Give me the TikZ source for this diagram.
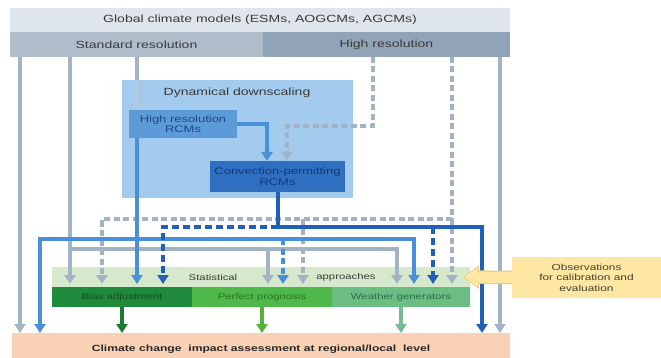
\documentclass[tikz,border=0pt]{standalone}
\usepackage{fontspec}
\setmainfont{Liberation Sans}[FakeStretch=1.35]
\usetikzlibrary{arrows.meta}
\definecolor{globc}{HTML}{DFE5EC}
\definecolor{stdc}{HTML}{B0BDCB}
\definecolor{highc}{HTML}{91A3B7}
\definecolor{dync}{HTML}{A3CBEE}
\definecolor{hrcmc}{HTML}{5D9AD8}
\definecolor{cprcmc}{HTML}{2F6FC2}
\definecolor{statc}{HTML}{D6E9CC}
\definecolor{biasc}{HTML}{1F8A3C}
\definecolor{ppc}{HTML}{4FB84A}
\definecolor{wgc}{HTML}{6CBD84}
\definecolor{impc}{HTML}{F9D2B6}
\definecolor{obsc}{HTML}{FDE7A3}
\definecolor{obsline}{HTML}{EBCB7E}
\definecolor{grayl}{HTML}{A3B3C7}
\definecolor{grayin}{HTML}{B5C9DE}
\definecolor{bluel}{HTML}{4A8FDA}
\definecolor{dbluel}{HTML}{2060B8}
\definecolor{gra}{HTML}{1C7A30}
\definecolor{grb}{HTML}{57B03A}
\definecolor{grc}{HTML}{79B895}
\definecolor{txtc}{HTML}{3A3A3A}
\definecolor{hrcmt}{HTML}{1F488C}
\definecolor{cprcmt}{HTML}{183770}
\definecolor{biast}{HTML}{14501E}
\definecolor{ppt}{HTML}{28731E}
\definecolor{wgt}{HTML}{286E46}
\definecolor{impt}{HTML}{282828}
\definecolor{obst}{HTML}{463E2D}
\begin{document}
\begin{tikzpicture}[x=1pt,y=-1pt,
  box/.style={inner sep=0pt,outer sep=0pt,draw=none,align=center},
  hdr/.style={font=\fontsize{10.4}{12}\selectfont,text=txtc},
  small/.style={font=\fontsize{9.6}{10.6}\selectfont},
  band/.style={font=\fontsize{8.4}{10}\selectfont},
  ln/.style={line width=3.4pt},
  tip/.style={-{Triangle[length=9pt,width=11pt]}},
  sh/.style={shorten >=3pt},
  gl/.style={ln,color=grayl},
  gld/.style={ln,color=grayl,dash pattern=on 6pt off 3.5pt},
  bl/.style={ln,color=bluel},
  bld/.style={ln,color=bluel,dash pattern=on 6pt off 3.5pt},
  db/.style={ln,color=dbluel},
  dbd/.style={ln,color=dbluel,dash pattern=on 7pt off 4pt}]
\useasboundingbox (0,0) rectangle (661,358);
\fill[white] (0,0) rectangle (661,358);

% boxes
\node[box,hdr,fill=globc,minimum width=500pt,minimum height=24pt] (glob) at (260,20) {Global climate models (ESMs, AOGCMs, AGCMs)};
\node[box,hdr,fill=stdc,minimum width=253pt,minimum height=25pt] (std) at (136.5,44.5) {Standard resolution};
\node[box,hdr,fill=highc,minimum width=247pt,minimum height=25pt] (high) at (386.5,44.5) {High resolution};
\node[box,fill=dync,minimum width=231pt,minimum height=118pt] (dyn) at (237.5,139) {};
\node[box,hdr] (dyntxt) at (237,93) {Dynamical downscaling};
\node[box,fill=hrcmc,minimum width=108pt,minimum height=28pt] (hrcm) at (183,124) {};
\node[box,small,text=hrcmt] (hrcmtxt) at (hrcm) {High resolution\\RCMs};
\node[box,small,fill=cprcmc,minimum width=135pt,minimum height=31pt,text=cprcmt] (cprcm) at (277.5,176.5) {Convection-permitting\\RCMs};
\node[box,fill=statc,minimum width=418pt,minimum height=20pt] (stat) at (261,277) {};
\node[box,band,text=txtc] (stat1) at (213,277) {Statistical};
\node[box,band,text=txtc] (stat2) at (346,277) {approaches};
\node[box,band,fill=biasc,text=biast,minimum width=140pt,minimum height=20pt] (bias) at (122,297) {Bias adjustment};
\node[box,band,fill=ppc,text=ppt,minimum width=140pt,minimum height=20pt] (pp) at (262,297) {Perfect prognosis};
\node[box,band,fill=wgc,text=wgt,minimum width=138pt,minimum height=20pt] (wg) at (401,297) {Weather generators};
\node[box,fill=impc,minimum width=498pt,minimum height=32pt,font=\bfseries\fontsize{9}{10}\selectfont,text=impt] (impact) at (261,349) {Climate change\ \ impact assessment at regional/local\ \ level};
\node[box,fill=obsc,minimum width=149pt,minimum height=41pt,text=obst,font=\fontsize{8.8}{10.4}\selectfont] (obs) at (586.5,277.5) {Observations\\for calibration and\\evaluation};

% reference positions
\coordinate (xA) at (20,0);  \coordinate (xB) at (70,0);  \coordinate (xC) at (137,0);
\coordinate (xD) at (500,0); \coordinate (xE) at (373,0); \coordinate (xF) at (452,0);
\coordinate (xG) at (287,0); \coordinate (xH) at (102,0); \coordinate (xI) at (303,0);
\coordinate (xJ) at (268,0); \coordinate (xK) at (397,0); \coordinate (xM) at (40,0);
\coordinate (xN) at (414,0); \coordinate (xO) at (283,0); \coordinate (xP) at (267,0);
\coordinate (xQ) at (278,0); \coordinate (xR) at (482,0); \coordinate (xS) at (163,0);
\coordinate (xT) at (433,0);
\coordinate (yE) at (0,126); \coordinate (y219) at (0,219); \coordinate (y227) at (0,227);
\coordinate (y239) at (0,239); \coordinate (y249) at (0,249);

% gray solid
\draw[gl,tip] (std.south -| xA) -- (impact.north -| xA);
\draw[gl,tip,sh] (std.south -| xB) -- (stat.south -| xB);
\draw[gl,tip,sh] (y249 -| xB) -| (stat.south -| xK);
\draw[gl,tip,sh] (y249 -| xJ) -- (stat.south -| xJ);
\draw[gl] (std.south -| xC) -- (dyn.north -| xC);
\draw[ln,color=grayin] (dyn.north -| xC) -- (hrcm.north -| xC);
\draw[gl,tip] (high.south -| xD) -- (impact.north -| xD);
% gray dashed
\draw[gld,tip] (high.south -| xE) |- (yE -| xG) -- (cprcm.north -| xG);
\draw[gld,tip,sh] (high.south -| xF) -- (stat.south -| xF);
\draw[gld,tip,sh] (y219 -| xF) -| (stat.south -| xH);
\draw[gld,tip,sh] (y219 -| xI) -- (stat.south -| xI);
% blue
\draw[bl,tip] (hrcm.east) -| (cprcm.north -| xP);
\draw[bl,tip,sh] (hrcm.south -| xC) -- (stat.south -| xC);
\draw[bl,tip] (y239 -| xC) -| (impact.north -| xM);
\draw[bl,tip,sh] (y239 -| xC) -| (stat.south -| xN);
\draw[bld,tip,sh] (y239 -| xO) -- (stat.south -| xO);
% dark blue
\draw[db,tip] (cprcm.south -| xQ) |- (y227 -| xR) -- (impact.north -| xR);
\draw[dbd,tip,sh] (y227 -| xQ) -| (stat.south -| xS);
\draw[dbd,tip,sh] (y227 -| xT) -- (stat.south -| xT);
% green
\draw[ln,color=gra,tip] (bias.south) -- (impact.north -| bias.south);
\draw[ln,color=grb,tip] (pp.south) -- (impact.north -| pp.south);
\draw[ln,color=grc,tip] (wg.south) -- (impact.north -| wg.south);
% observations arrow
\draw[line width=13.5pt,color=obsline,-{Triangle[length=16pt,width=22.5pt]}] (obs.west) -- ([xshift=-7pt]stat.east);
\draw[line width=11pt,color=obsc,-{Triangle[length=14pt,width=19.5pt]},shorten >=1.2pt] ([xshift=1pt]obs.west) -- ([xshift=-7pt]stat.east);
\end{tikzpicture}
\end{document}
